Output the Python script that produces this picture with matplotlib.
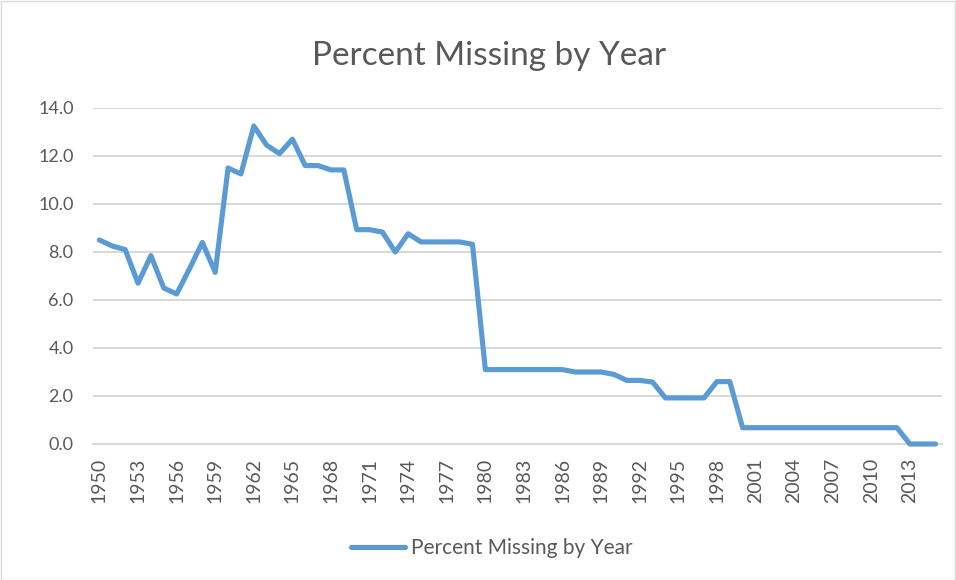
import matplotlib.pyplot as plt
from matplotlib.patches import Rectangle

# data
years = list(range(1950, 2016))
pct_missing = [8.5, 8.25, 8.1, 6.7, 7.85, 6.5, 6.25, 7.3, 8.4, 7.15,
               11.5, 11.25, 13.25, 12.45, 12.1, 12.7, 11.6, 11.6, 11.42, 11.42,
               8.93, 8.93, 8.83, 8.0, 8.76, 8.42, 8.42, 8.42, 8.42, 8.32,
               3.1, 3.1, 3.1, 3.1, 3.1, 3.1, 3.1, 3.0, 3.0, 3.0,
               2.9, 2.65, 2.65, 2.58, 1.92, 1.92, 1.92, 1.92, 2.6, 2.6,
               0.68, 0.68, 0.68, 0.68, 0.68, 0.68, 0.68, 0.68, 0.68, 0.68,
               0.68, 0.68, 0.68, 0.0, 0.0, 0.0]
yticks = [0, 2, 4, 6, 8, 10, 12, 14]

txt = '#595959'
grid = '#D9D9D9'
plt.rcParams['font.family'] = ['Lato', 'DejaVu Sans']

fig = plt.figure(figsize=(9.56, 5.8), dpi=100)
W, H = 956, 580
ax = fig.add_axes([93 / W, 1 - 444 / H, (942 - 93) / W, (444 - 108) / H])

x = list(range(len(years)))
ax.plot(x, pct_missing, color='#5B9BD5', lw=3.7, solid_joinstyle='round',
        solid_capstyle='round', label='Percent Missing by Year', clip_on=False,
        zorder=3)

ax.set_xlim(-0.5, len(years) - 0.5)
ax.set_ylim(0, 14)
ax.set_yticks(yticks)
ax.set_yticklabels(['%.1f' % v for v in yticks])
ax.set_xticks(x[::3])
ax.set_xticklabels([str(y) for y in years[::3]], rotation=90)
ax.tick_params(axis='both', length=0, colors=txt, labelsize=13)
ax.tick_params(axis='x', pad=10, labelsize=14)
ax.tick_params(axis='y', pad=14)
ax.grid(axis='y', color=grid, lw=1.5)
ax.set_axisbelow(True)
for s in ['top', 'right', 'left']:
    ax.spines[s].set_visible(False)
ax.spines['bottom'].set_color(grid)
ax.spines['bottom'].set_linewidth(1.5)

fig.text(489 / W, 1 - 56 / H, 'Percent Missing by Year', ha='center', va='center',
         color=txt, fontsize=24)

fig.legend(loc='center', bbox_to_anchor=(492 / W, 1 - 548 / H), frameon=False,
           fontsize=15, labelcolor=txt, handlelength=2.6, handletextpad=0.3)

fig.patches.append(Rectangle((0.5 / W, 0.5 / H), 1 - 1.5 / W, 1 - 1.5 / H,
                             transform=fig.transFigure, fill=False,
                             edgecolor=grid, lw=1))

fig.savefig('out.png', dpi=100)
